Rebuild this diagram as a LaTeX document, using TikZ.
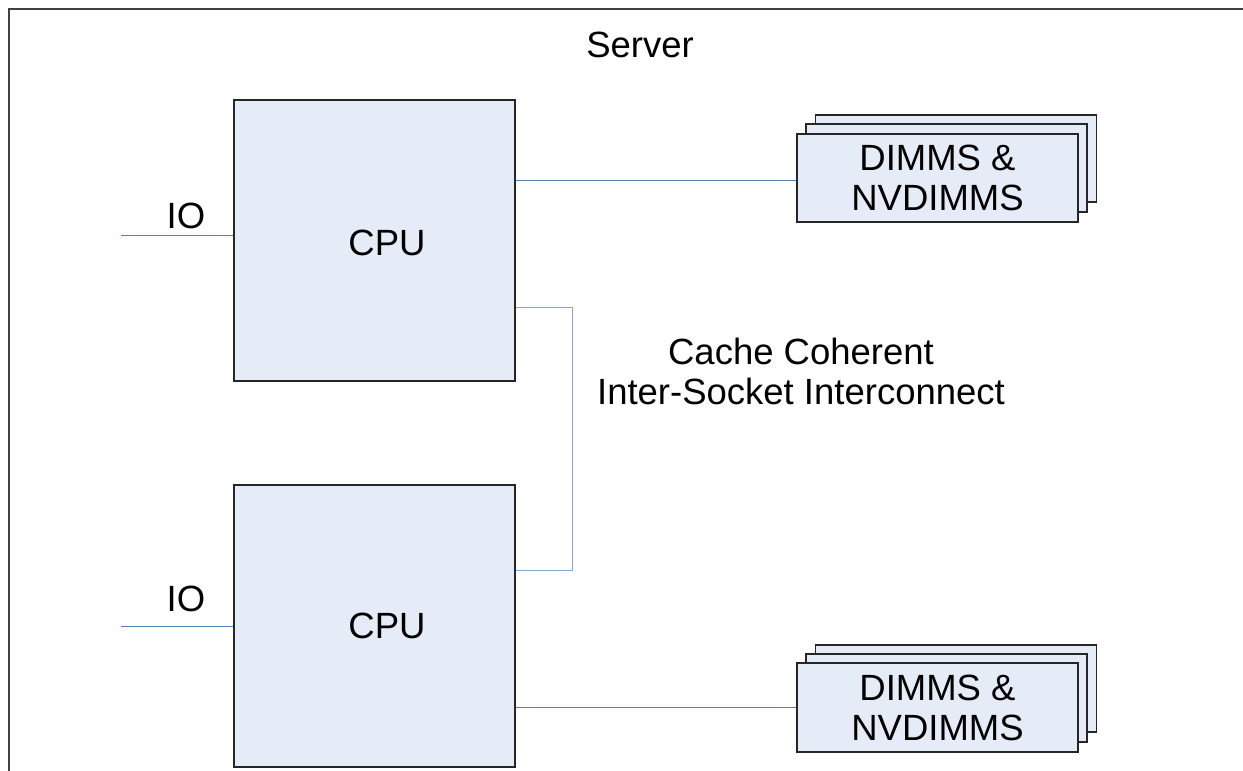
\documentclass[tikz,border=0pt]{standalone}
\usepackage{fontspec}
\setmainfont{Liberation Sans}
\begin{document}
\begin{tikzpicture}[x=1pt,y=-1pt,
  box/.style={draw=black!85, line width=1.3pt, fill=boxfill, inner sep=0pt},
  link/.style={draw=linkblue, line width=1pt},
  lbl/.style={font=\fontsize{36.5}{40}\selectfont, align=center, inner sep=0pt}]
\definecolor{boxfill}{HTML}{E6ECF7}
\definecolor{linkblue}{HTML}{4F81BD}
\useasboundingbox (0,0) rectangle (1243,771);
% outer server frame (cropped)
\draw[draw=black!75, line width=2pt] (9,771) -- (9,9) -- (1243,9);
\node[lbl] (server) at (640,45) {Server};
% CPUs
\node[box, minimum width=281pt, minimum height=281pt] (cpu1) at (374.5,240.5) {};
\node[lbl] (cpu1t) at (387,243) {CPU};
\node[box, minimum width=281pt, minimum height=282pt] (cpu2) at (374.5,626) {};
\node[lbl] (cpu2t) at (387,626) {CPU};
% IO
\node[lbl] (io1) at (186,216) {IO};
\node[lbl] (io2) at (186,599) {IO};
\coordinate (io1s) at (121,235);
\coordinate (io2s) at (121,626);
\draw[link] (io1s) -- (io1s -| cpu1.west);
\draw[link] (io2s) -- (io2s -| cpu2.west);
% DIMM stacks top
\node[box, minimum width=281pt, minimum height=87pt] (dimmA3) at (956,158.5) {};
\node[box, minimum width=281pt, minimum height=88pt] (dimmA2) at (946.5,168) {};
\node[box, minimum width=281pt, minimum height=88pt, lbl] (dimmA) at (937.5,178) {DIMMS \&\\NVDIMMS};
% DIMM stacks bottom
\node[box, minimum width=281pt, minimum height=87pt] (dimmB3) at (956,688.5) {};
\node[box, minimum width=281pt, minimum height=88pt] (dimmB2) at (946.5,698) {};
\node[box, minimum width=281pt, minimum height=89pt, lbl] (dimmB) at (937.5,707.5) {DIMMS \&\\NVDIMMS};
% memory links
\draw[link] (cpu1.east |- 0,180) -- (dimmA.west |- 0,180);
\draw[link] (cpu2.east |- dimmB.west) -- (dimmB.west);
% interconnect
\draw[link, draw=linkblue!70] ([yshift=-66.5pt]cpu1.east) -- ++(57,0) |- ([yshift=56pt]cpu2.east);
\node[lbl] (cc) at (801,371) {Cache Coherent\\Inter-Socket Interconnect};
\end{tikzpicture}
\end{document}
